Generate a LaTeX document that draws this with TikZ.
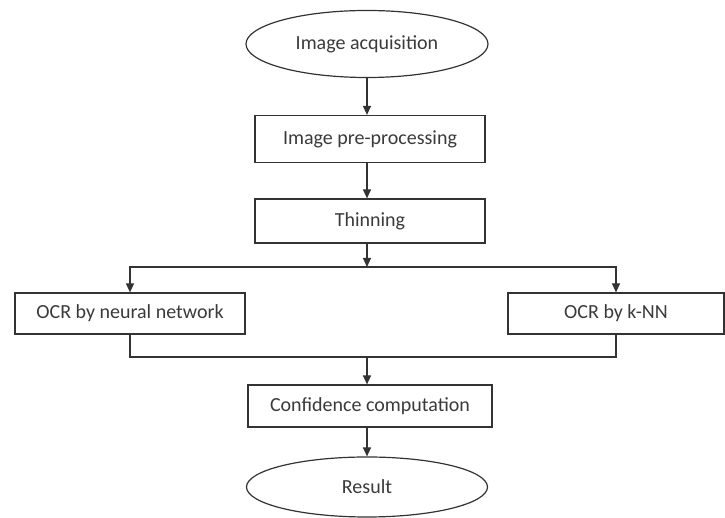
\documentclass[tikz,border=0pt]{standalone}
\usepackage{fontspec}
\setmainfont{Carlito}
\usepackage{xcolor}
\definecolor{cLine}{HTML}{333333}
\definecolor{cText}{HTML}{3A3A3A}
\usetikzlibrary{positioning,arrows.meta,shapes.geometric}
\tikzset{
  node-box/.style={draw=cLine,line width=0.6pt,rectangle,inner sep=0pt,
    align=center,text=cText,font=\fontsize{10}{12}\selectfont},
  node-end/.style={draw=cLine,line width=0.6pt,ellipse,inner sep=0pt,
    align=center,text=cText,font=\fontsize{10}{12}\selectfont},
  arrow/.style={-{Triangle[length=4.5pt,width=4pt]},line width=0.6pt,draw=cLine},
  link/.style={line width=0.6pt,draw=cLine},
}
\begin{document}
\begin{tikzpicture}[x=0.5pt,y=-0.5pt]
  \useasboundingbox (0,0) rectangle (725,518);
  % main column
  \node[node-end,minimum width=121pt,minimum height=33.5pt] (acq) at (367,44) {Image acquisition};
  \node[node-box,minimum width=115pt,minimum height=23.5pt] (pre) at (370,139) {Image pre-processing};
  \node[node-box,minimum width=115pt,minimum height=22pt] (thin) at (370,221) {Thinning};
  % two recognisers
  \node[node-box,minimum width=115pt,minimum height=20.5pt] (nn) at (130,313.5) {OCR by neural network};
  \node[node-box,minimum width=108pt,minimum height=20.5pt] (knn) at (616,313.5) {OCR by k-NN};
  \node[node-box,minimum width=122pt,minimum height=21pt] (conf) at (370,406) {Confidence computation};
  \node[node-end,minimum width=120.5pt,minimum height=30pt] (res) at (367,487) {Result};
  \coordinate (split) at (367,267);
  \coordinate (merge) at (367,357);
  \draw[arrow] (acq.south) -- (acq.south |- pre.north);
  \draw[arrow] (pre.south -| acq.south) -- (acq.south |- thin.north);
  \draw[arrow] (thin.south -| acq.south) -- (split);
  \draw[arrow] (split) -| (nn.north);
  \draw[arrow] (split) -| (knn.north);
  \draw[link] (nn.south) |- (merge);
  \draw[link] (knn.south) |- (merge);
  \draw[arrow] (merge) -- (merge |- conf.north);
  \draw[arrow] (conf.south -| acq.south) -- (res.north);
\end{tikzpicture}
\end{document}
